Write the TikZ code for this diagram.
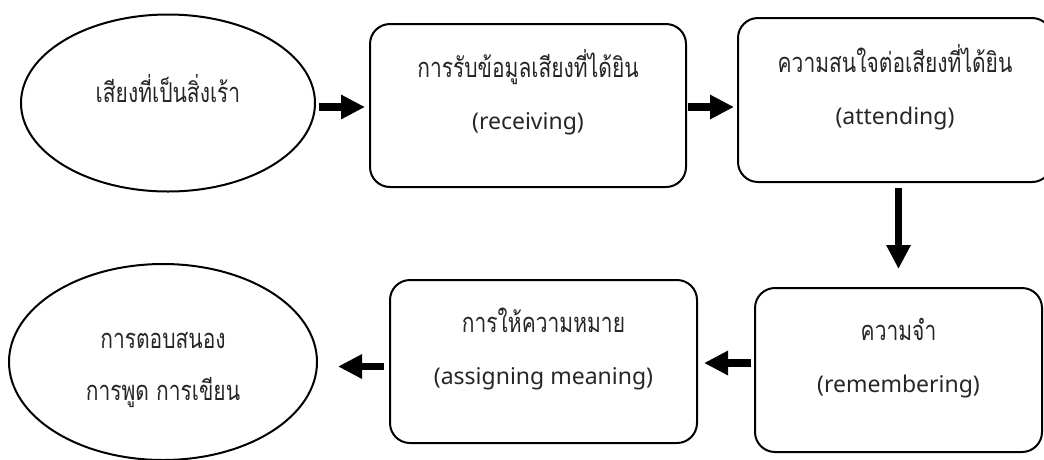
\documentclass[tikz,border=0pt]{standalone}
\usepackage{fontspec}
\newfontfamily\thaifont[Script=Thai]{Loma}
\newfontfamily\latinfont{Noto Sans}
\usetikzlibrary{shapes.geometric,arrows.meta}

% Thai lines: Loma, set a little tall
\newcommand\thline[1]{\scalebox{1}[1.3]{\thaifont\fontsize{21}{52}\selectfont #1}}
\newcommand\enline[1]{{\latinfont\fontsize{23}{52}\selectfont #1}}

\begin{document}
\begin{tikzpicture}[x=1pt,y=-1pt,
  txt/.style={font=\fontsize{21}{52}\selectfont, align=center, text=black!85, text depth=5pt},
  stage/.style={draw, line width=2pt, rounded corners=20pt, inner sep=0pt, txt},
  oval/.style={draw, ellipse, line width=2pt, inner sep=0pt, txt},
  fat/.style={line width=7.5pt, -{Triangle[length=24pt,width=23pt]}}]
\useasboundingbox (0,0) rectangle (1044,459);

% top row
\node[oval, minimum width=294pt, minimum height=177pt, text height=15pt, text depth=17pt] (e1) at (168,103)
  {\thline{เสียงที่เป็นสิ่งเร้า}};
\node[stage, minimum width=316pt, minimum height=163pt, text height=52pt] (b1) at (528,105.5)
  {\thline{การรับข้อมูลเสียงที่ได้ยิน}\\\enline{(receiving)}};
\node[stage, minimum width=314pt, minimum height=164pt, text height=53pt] (b2) at (895,100)
  {\thline{ความสนใจต่อเสียงที่ได้ยิน}\\\enline{(attending)}};

% bottom row
\node[stage, minimum width=287pt, minimum height=164pt, text height=49pt] (b3) at (898.5,370)
  {\thline{ความจำ}\\\enline{(remembering)}};
\node[stage, minimum width=307pt, minimum height=163pt, text height=50pt] (b4) at (543.5,361.5)
  {\thline{การให้ความหมาย}\\\enline{(assigning meaning)}};
\node[oval, minimum width=308pt, minimum height=196pt, text height=81pt] (e2) at (163,362)
  {\thline{การตอบสนอง}\\\thline{การพูด การเขียน}};

% flow arrows
\draw[fat, shorten <=3pt, shorten >=4pt]
  ([yshift=-4pt]e1.east) -- ([yshift=-4pt]e1.east -| b1.west);
\draw[fat, shorten <=1pt, shorten >=3pt]
  ([yshift=-1.5pt]b1.east) -- ([yshift=-1.5pt]b1.east -| b2.west);
\draw[fat, shorten <=5pt, shorten >=18pt]
  (b3.north |- b2.south) -- (b3.north);
\draw[fat, shorten <=3pt, shorten >=6pt]
  ([yshift=7pt]b3.west) -- ([yshift=7pt]b3.west -| b4.east);
\draw[fat, shorten <=5pt, shorten >=20pt]
  ([yshift=-5pt]b4.west) -- ([yshift=-5pt]b4.west -| e2.east);
\end{tikzpicture}
\end{document}
